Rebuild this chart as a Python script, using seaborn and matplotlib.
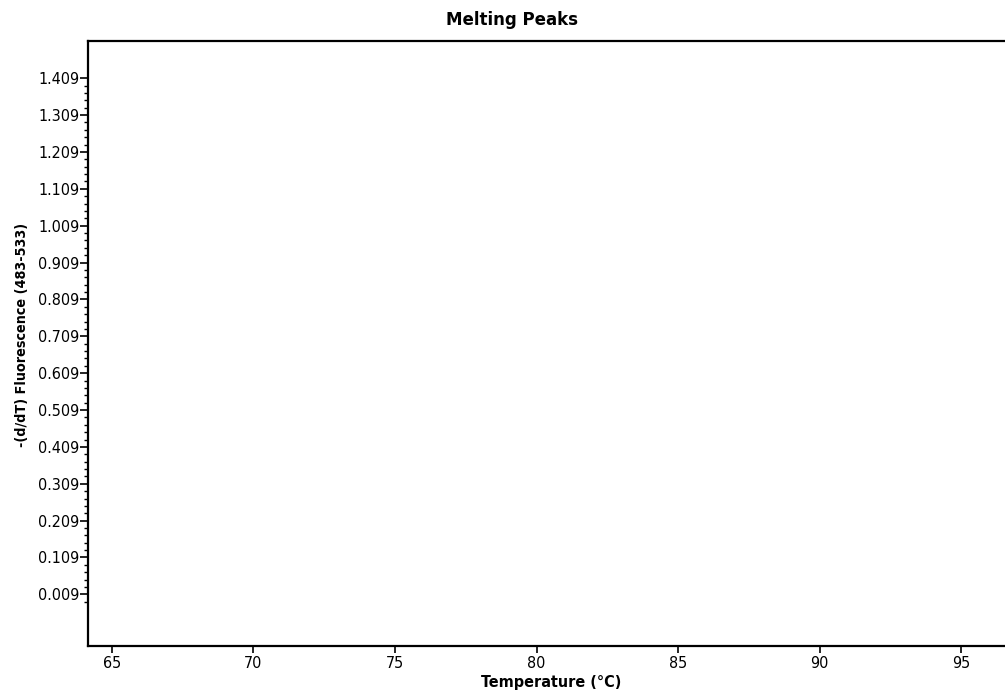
import numpy as np
import pandas as pd
import matplotlib
matplotlib.use("Agg")
import matplotlib.pyplot as plt
import seaborn as sns
from matplotlib.ticker import FixedLocator

# ---- data (chart is empty: only axes) ----
x_ticks = [65, 70, 75, 80, 85, 90, 95]
y_ticks = [0.009, 0.109, 0.209, 0.309, 0.409, 0.509, 0.609, 0.709,
           0.809, 0.909, 1.009, 1.109, 1.209, 1.309, 1.409]
y_tick_labels = ["0.009", "0.109", "0.209", "0.309", "0.409", "0.509", "0.609",
                 "0.709", "0.809", "0.909", "1.009", "1.109", "1.209", "1.309", "1.409"]
temperature = []
fluorescence = []
title = "Melting Peaks"
xlabel = "Temperature (°C)"
ylabel = "-(d/dT) Fluorescence (483-533)"

sns.set_style("ticks")
narrow = ["Liberation Sans Narrow", "DejaVu Sans"]
plt.rcParams["font.family"] = narrow
plt.rcParams["font.stretch"] = "condensed"
plt.rcParams["text.color"] = "black"
plt.rcParams["axes.labelcolor"] = "black"

fig = plt.figure(figsize=(10.05, 6.94), dpi=100)
ax = fig.add_axes([0.0876, 0.0692, 0.9124 + 0.01, 0.9409 - 0.0692])

df = pd.DataFrame({"T": pd.Series(temperature, dtype=float),
                   "F": pd.Series(fluorescence, dtype=float)})
if len(df):
    sns.lineplot(data=df, x="T", y="F", ax=ax, color="black")

ax.set_xlim(64.16, 96.9)
ax.set_ylim(-0.131, 1.510)

ax.set_xticks(x_ticks)
ax.set_xticklabels([str(v) for v in x_ticks], fontsize=11.5)
ax.set_yticks(y_ticks)
ax.set_yticklabels(y_tick_labels, fontsize=11.5)
minor = [round(v, 3) for v in np.arange(-0.011, 1.41, 0.02)]
minor = [v for v in minor if all(abs(v - m) > 1e-6 for m in y_ticks)]
ax.yaxis.set_minor_locator(FixedLocator(minor))

ax.tick_params(axis="y", which="major", direction="out", length=6, width=1.2,
               pad=0, colors="black")
ax.tick_params(axis="y", which="minor", direction="out", length=3, width=1.0,
               colors="black")
ax.tick_params(axis="x", which="major", direction="out", length=5, width=1.2,
               pad=2, colors="black")

for s in ["left", "bottom", "top"]:
    ax.spines[s].set_visible(True)
    ax.spines[s].set_color("black")
    ax.spines[s].set_linewidth(1.6)
ax.spines["right"].set_visible(False)

ax.set_xlabel(xlabel, fontsize=11.5, fontweight="bold", labelpad=3)
ax.set_ylabel(ylabel, fontsize=10.3, fontweight="bold")
ax.yaxis.set_label_coords(-0.064, 0.514)
fig.text(0.509, 0.971, title, ha="center", va="center", fontsize=12,
         fontweight="heavy", family=["DejaVu Sans"], fontstretch="normal",
         color="black")

fig.savefig("out.png", dpi=100, facecolor="white")
